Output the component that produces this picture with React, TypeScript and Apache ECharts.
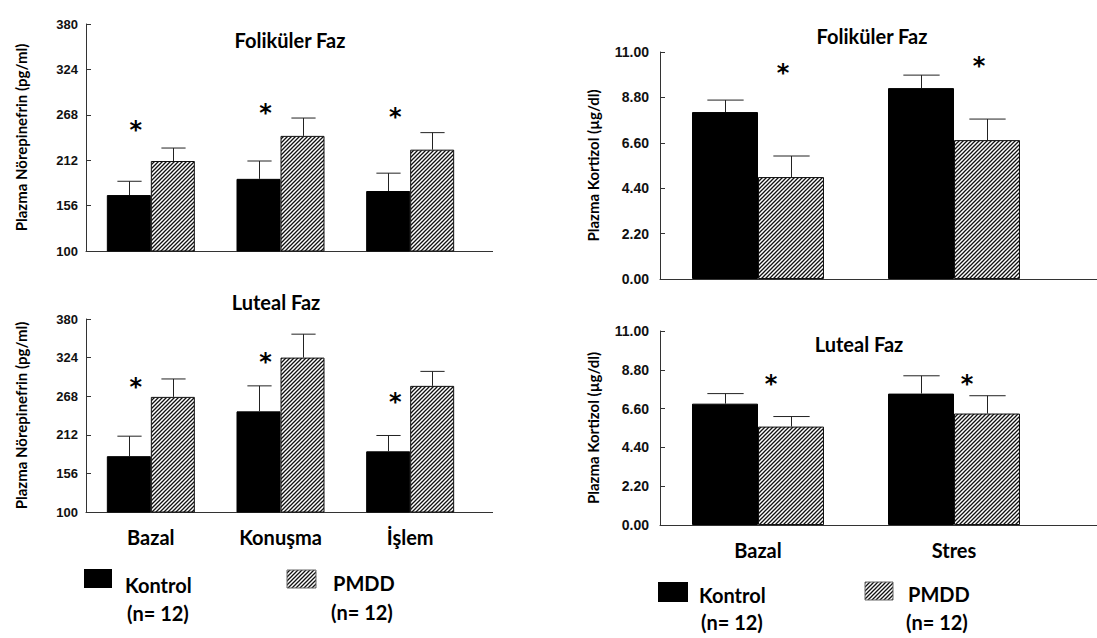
import React, { useEffect, useRef } from "react";
import * as echarts from "echarts";

// ---------- DATA ----------
const neCategories = ["Bazal", "Konuşma", "İşlem"];
const cortCategories = ["Bazal", "Stres"];
const groupNames = ["Kontrol", "PMDD"];
const groupN = ["(n= 12)", "(n= 12)"];

const neFolKontrol = [169, 189, 174];
const neFolKontrolErr = [186, 211, 196];
const neFolPmdd = [211, 242, 225];
const neFolPmddErr = [227, 264, 246];
const neFolStar = [256, 277, 272];

const neLutKontrol = [181, 246, 188];
const neLutKontrolErr = [210, 283, 211];
const neLutPmdd = [267, 324, 283];
const neLutPmddErr = [293, 358, 304];
const neLutStar = [288, 325, 267];

const cortFolKontrol = [8.09, 9.25];
const cortFolKontrolErr = [8.67, 9.88];
const cortFolPmdd = [4.94, 6.73];
const cortFolPmddErr = [5.96, 7.75];
const cortFolStar = [10.22, 10.56];

const cortLutKontrol = [6.88, 7.45];
const cortLutKontrolErr = [7.45, 8.46];
const cortLutPmdd = [5.58, 6.32];
const cortLutPmddErr = [6.15, 7.33];
const cortLutStar = [8.29, 8.29];

const neAxis = { min: 100, max: 380, interval: 56 };
const cortAxis = { min: 0, max: 11, interval: 2.2 };

const titles = ["Foliküler Faz", "Luteal Faz", "Foliküler Faz", "Luteal Faz"];
const yNames = ["Plazma Nörepinefrin (pg/ml)", "Plazma Kortizol (µg/dl)"];

const FONT = "Lato, 'Open Sans', sans-serif";
const TICKFONT = "'Liberation Sans', Arial, sans-serif";

function makeHatch() {
  const c = document.createElement("canvas");
  const s = 4;
  c.width = s;
  c.height = s;
  const ctx = c.getContext("2d")!;
  ctx.fillStyle = "#ffffff";
  ctx.fillRect(0, 0, s, s);
  ctx.strokeStyle = "#111111";
  ctx.lineWidth = 1.3;
  ctx.beginPath();
  ctx.moveTo(-1, s + 1);
  ctx.lineTo(s + 1, -1);
  ctx.moveTo(-1, 1);
  ctx.lineTo(1, -1);
  ctx.moveTo(s - 1, s + 1);
  ctx.lineTo(s + 1, s - 1);
  ctx.stroke();
  return c;
}

export default function App() {
  const ref = useRef<HTMLDivElement>(null);

  useEffect(() => {
    if (!ref.current) return;
    const chart = echarts.init(ref.current, undefined, { renderer: "svg" });
    const hatch = { image: makeHatch(), repeat: "repeat" } as any;

    const panels = [
      {
        grid: { left: 86, top: 24, width: 389, height: 227 },
        cats: neCategories, axis: neAxis, yName: yNames[0], nameGap: 58,
        k: neFolKontrol, kE: neFolKontrolErr, p: neFolPmdd, pE: neFolPmddErr, star: neFolStar,
        barW: 44, starDx: -15, showCat: false, fmt: (v: number) => String(Math.round(v)),
        labelMargin: 8, tickFont: 13, title: titles[0], tx: 290, ty: 30, extendTo: 493,
      },
      {
        grid: { left: 86, top: 319, width: 389, height: 193 },
        cats: neCategories, axis: neAxis, yName: yNames[0], nameGap: 58,
        k: neLutKontrol, kE: neLutKontrolErr, p: neLutPmdd, pE: neLutPmddErr, star: neLutStar,
        barW: 44, starDx: -15, showCat: true, fmt: (v: number) => String(Math.round(v)),
        labelMargin: 8, tickFont: 13, title: titles[1], tx: 276, ty: 292, extendTo: 493,
      },
      {
        grid: { left: 660, top: 52, width: 392, height: 227 },
        cats: cortCategories, axis: cortAxis, yName: yNames[1], nameGap: 60,
        k: cortFolKontrol, kE: cortFolKontrolErr, p: cortFolPmdd, pE: cortFolPmddErr, star: cortFolStar,
        barW: 66, starDx: 25, showCat: false, fmt: (v: number) => v.toFixed(2),
        labelMargin: 11, tickFont: 14, title: titles[2], tx: 872, ty: 26, extendTo: 1097,
      },
      {
        grid: { left: 660, top: 331, width: 392, height: 194 },
        cats: cortCategories, axis: cortAxis, yName: yNames[1], nameGap: 60,
        k: cortLutKontrol, kE: cortLutKontrolErr, p: cortLutPmdd, pE: cortLutPmddErr, star: cortLutStar,
        barW: 66, starDx: 13, showCat: true, fmt: (v: number) => v.toFixed(2),
        labelMargin: 11, tickFont: 14, title: titles[3], tx: 859, ty: 334, extendTo: 1097,
      },
    ];

    const errRender = (offset: number, cap: number) => (params: any, api: any) => {
      const top = api.coord([api.value(0), api.value(2)]);
      const base = api.coord([api.value(0), api.value(1)]);
      const x = Math.round(top[0] + offset) + 0.5;
      return {
        type: "group",
        children: [
          { type: "line", shape: { x1: x, y1: base[1], x2: x, y2: top[1] }, style: { stroke: "#222", lineWidth: 1 } },
          { type: "line", shape: { x1: x - cap / 2, y1: top[1], x2: x + cap / 2, y2: top[1] }, style: { stroke: "#222", lineWidth: 1 } },
        ],
      };
    };

    const starRender = (dx: number) => (params: any, api: any) => {
      const pt = api.coord([api.value(0), api.value(1)]);
      return {
        type: "text",
        x: pt[0] + dx,
        y: pt[1] + 5,
        style: {
          text: "*",
          fill: "#000",
          font: "bold 24px 'DejaVu Sans'",
          textAlign: "center",
          textVerticalAlign: "middle",
        },
      };
    };

    const grids: any[] = [];
    const xAxes: any[] = [];
    const yAxes: any[] = [];
    const series: any[] = [];
    const titleArr: any[] = [];
    const graphic: any[] = [];

    panels.forEach((pn, i) => {
      grids.push({ ...pn.grid, containLabel: false });
      xAxes.push({
        type: "category",
        gridIndex: i,
        data: pn.cats,
        axisTick: { show: false },
        axisLine: { show: true, lineStyle: { color: "#333", width: 1 } },
        axisLabel: {
          show: pn.showCat,
          margin: 15,
          fontFamily: FONT,
          fontWeight: "bold",
          fontSize: 20,
          color: "#000",
        },
      });
      yAxes.push({
        type: "value",
        gridIndex: i,
        min: pn.axis.min,
        max: pn.axis.max,
        interval: pn.axis.interval,
        name: pn.yName,
        nameLocation: "middle",
        nameGap: pn.nameGap,
        nameTextStyle: { fontFamily: FONT, fontWeight: "bold", fontSize: 15, color: "#000" },
        splitLine: { show: false },
        axisLine: { show: true, lineStyle: { color: "#333", width: 1 } },
        axisTick: { show: true, inside: true, length: 5, lineStyle: { color: "#333" } },
        axisLabel: {
          formatter: pn.fmt,
          margin: pn.labelMargin,
          fontFamily: TICKFONT,
          fontWeight: "bold",
          fontSize: pn.tickFont,
          color: "#111",
        },
      });
      series.push({
        type: "bar",
        name: groupNames[0],
        xAxisIndex: i,
        yAxisIndex: i,
        data: pn.k,
        barWidth: pn.barW,
        barGap: "0%",
        itemStyle: { color: "#000", borderColor: "#000", borderWidth: 1 },
      });
      series.push({
        type: "bar",
        name: groupNames[1],
        xAxisIndex: i,
        yAxisIndex: i,
        data: pn.p,
        barWidth: pn.barW,
        barGap: "0%",
        itemStyle: { color: hatch, borderColor: "#111", borderWidth: 1 },
      });
      series.push({
        type: "custom",
        xAxisIndex: i,
        yAxisIndex: i,
        renderItem: errRender(-pn.barW / 2, pn.barW * 0.55),
        data: pn.k.map((v, j) => [j, v, pn.kE[j]]),
        z: 3,
      });
      series.push({
        type: "custom",
        xAxisIndex: i,
        yAxisIndex: i,
        renderItem: errRender(pn.barW / 2, pn.barW * 0.55),
        data: pn.p.map((v, j) => [j, v, pn.pE[j]]),
        z: 3,
      });
      series.push({
        type: "custom",
        xAxisIndex: i,
        yAxisIndex: i,
        renderItem: starRender(pn.starDx),
        data: pn.star.map((v, j) => [j, v]),
        z: 4,
      });
      titleArr.push({
        text: pn.title,
        left: pn.tx,
        top: pn.ty,
        textAlign: "center",
        textStyle: { fontFamily: FONT, fontWeight: "bold", fontSize: 20, color: "#000" },
        padding: 0,
      });
      const axisY = pn.grid.top + pn.grid.height + 0.5;
      graphic.push({
        type: "line",
        shape: { x1: pn.grid.left + pn.grid.width, y1: axisY, x2: pn.extendTo, y2: axisY },
        style: { stroke: "#333", lineWidth: 1 },
      });
    });

    // legends
    const legends = [
      { kx: 84, ky: 569, kw: 28, kh: 19, ktx: 125, kty: 585, knx: 127, kny: 613,
        px: 287, py: 570, pw: 29, ph: 18, ptx: 333, pty: 583, pnx: 331, pny: 612 },
      { kx: 658, ky: 582, kw: 30, kh: 20, ktx: 699, kty: 595, knx: 701, kny: 622,
        px: 865, py: 582, pw: 28, ph: 18, ptx: 908, pty: 594, pnx: 906, pny: 622 },
    ];
    const txt = (s: string, x: number, y: number) => ({
      type: "text",
      x, y,
      style: { text: s, fill: "#000", font: `bold 20px ${FONT}`, textVerticalAlign: "middle" },
    });
    legends.forEach((lg) => {
      graphic.push({ type: "rect", shape: { x: lg.kx, y: lg.ky, width: lg.kw, height: lg.kh }, style: { fill: "#000" } });
      graphic.push({ type: "rect", shape: { x: lg.px, y: lg.py, width: lg.pw, height: lg.ph }, style: { fill: hatch, stroke: "#666", lineWidth: 1 } });
      graphic.push(txt(groupNames[0], lg.ktx, lg.kty));
      graphic.push(txt(groupN[0], lg.knx, lg.kny));
      graphic.push(txt(groupNames[1], lg.ptx, lg.pty));
      graphic.push(txt(groupN[1], lg.pnx, lg.pny));
    });

    chart.setOption({
      animation: false,
      backgroundColor: "#fff",
      title: titleArr,
      grid: grids,
      xAxis: xAxes,
      yAxis: yAxes,
      series,
      graphic,
    });

    return () => chart.dispose();
  }, []);

  return (
    <div
      ref={ref}
      style={{ position: "absolute", left: 0, top: 0, width: 1097, height: 638, background: "#fff" }}
    />
  );
}
